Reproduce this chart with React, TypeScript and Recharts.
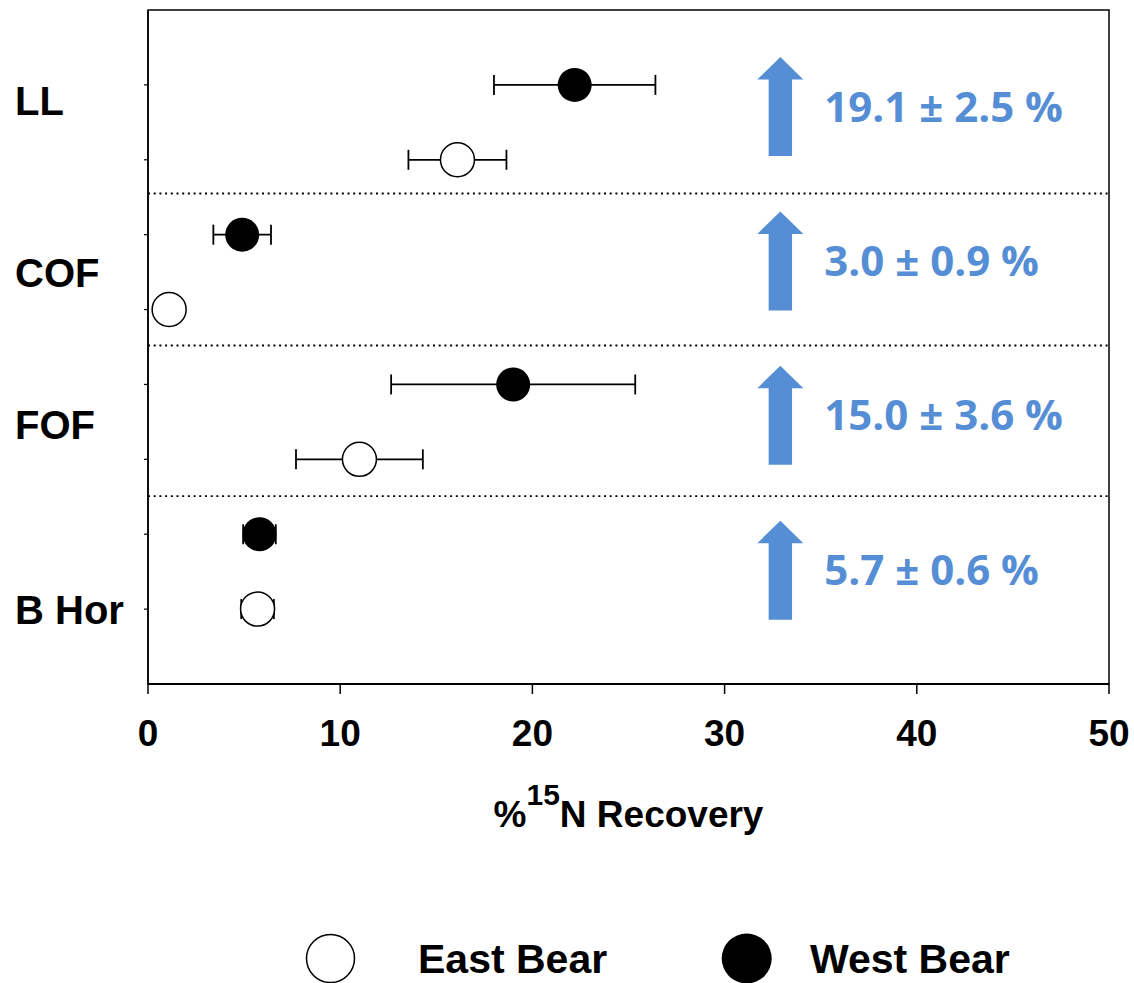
import React from "react";
import {
  ScatterChart,
  Scatter,
  XAxis,
  YAxis,
  ErrorBar,
  ReferenceLine,
  ReferenceArea,
} from "recharts";

const categories = ["LL", "COF", "FOF", "B Hor"];
const labelRows = [7.8, 5.5, 3.47, 1.0];

// West Bear (filled) and East Bear (open), mean and +/- error
const westMean = [22.2, 4.9, 19.0, 5.8];
const westErr = [4.2, 1.5, 6.35, 0.85];
const westRows = [8, 6, 4, 2];
const eastMean = [16.1, 1.1, 11.0, 5.7];
const eastErr = [2.55, 0.5, 3.3, 0.85];
const eastRows = [7, 5, 3, 1];

// blue arrow annotations
const gainText = ["19.1 ± 2.5 %", "3.0 ± 0.9 %", "15.0 ± 3.6 %", "5.7 ± 0.6 %"];
const gainRows = [7.71, 5.65, 3.59, 1.52];
const gainX = 32.9;

const separators = [6.55, 4.52, 2.51];
const xTicks = [0, 10, 20, 30, 40, 50];
const yTicks = [1, 2, 3, 4, 5, 6, 7, 8];

const FONT = "Arial, 'Liberation Sans', sans-serif";
const BLUE = "#558ED5";

const westData = westMean.map((x, i) => ({ x, y: westRows[i], err: westErr[i] }));
const eastData = eastMean.map((x, i) => ({ x, y: eastRows[i], err: eastErr[i] }));
const gainData = gainText.map((label, i) => ({ x: gainX, y: gainRows[i], label }));
const labelData = categories.map((label, i) => ({ x: 0, y: labelRows[i], label }));

const filledDot = (p: any) => <circle cx={p.cx} cy={p.cy} r={17} fill="#000" />;
const openDot = (p: any) => (
  <circle cx={p.cx} cy={p.cy} r={17} fill="#fff" stroke="#000" strokeWidth={1.5} />
);

const ArrowNote = (p: any) => {
  const { cx, cy } = p;
  const label = p.payload?.label ?? "";
  const d = [
    `M ${cx} ${cy - 49.5}`,
    `L ${cx + 23} ${cy - 27}`,
    `L ${cx + 11.7} ${cy - 27}`,
    `L ${cx + 11.7} ${cy + 49.5}`,
    `L ${cx - 11.7} ${cy + 49.5}`,
    `L ${cx - 11.7} ${cy - 27}`,
    `L ${cx - 23} ${cy - 27}`,
    "Z",
  ].join(" ");
  return (
    <g>
      <path d={d} fill={BLUE} />
      <text
        x={cx + 44}
        y={cy + 15}
        fill={BLUE}
        fontFamily="'Open Sans', sans-serif"
        fontWeight={700}
        fontSize={42}
      >
        {label}
      </text>
    </g>
  );
};

// category names sit left of the y axis
const CategoryLabel = (p: any) => (
  <text
    x={p.cx - 133}
    y={p.cy + 15}
    textAnchor="start"
    fontFamily={FONT}
    fontWeight={700}
    fontSize={40}
    fill="#000"
  >
    {p.payload?.label}
  </text>
);

const AxisTitle = (p: any) => {
  const vb = p.viewBox;
  return (
    <text
      x={vb.x + vb.width / 2}
      y={vb.y + 143}
      textAnchor="middle"
      fontFamily={FONT}
      fontWeight={700}
      fontSize={37}
      fill="#000"
    >
      <tspan>%</tspan>
      <tspan dy={-22} fontSize={30}>15</tspan>
      <tspan dy={22}>N Recovery</tspan>
    </text>
  );
};

function LegendRow() {
  return (
    <svg width={1134} height={63} style={{ position: "absolute", left: 0, top: 920 }}>
      <circle cx={330.5} cy={38.5} r={24} fill="#fff" stroke="#000" strokeWidth={1.5} />
      <text x={418} y={53} fontFamily={FONT} fontWeight={700} fontSize={41} fill="#000">
        East Bear
      </text>
      <circle cx={746.7} cy={38.5} r={25} fill="#000" />
      <text x={810} y={53} fontFamily={FONT} fontWeight={700} fontSize={41} fill="#000">
        West Bear
      </text>
    </svg>
  );
}

export default function App() {
  return (
    <div style={{ position: "absolute", left: 0, top: 0, width: 1134, height: 983, background: "#fff" }}>
      <ScatterChart
        width={1134}
        height={983}
        margin={{ top: 10, right: 25, bottom: 239, left: 138 }}
      >
        <XAxis
          type="number"
          dataKey="x"
          domain={[0, 50]}
          ticks={xTicks}
          height={60}
          tickSize={10}
          tickMargin={26}
          axisLine={{ stroke: "#000", strokeWidth: 2 }}
          tickLine={{ stroke: "#000", strokeWidth: 1.5 }}
          tick={{ fontFamily: FONT, fontWeight: 700, fontSize: 37, fill: "#000" }}
          label={<AxisTitle />}
        />
        <YAxis
          type="number"
          dataKey="y"
          domain={[0, 9]}
          ticks={yTicks}
          width={10}
          tickSize={4}
          tick={() => <g />}
          axisLine={{ stroke: "#000", strokeWidth: 1.5 }}
          tickLine={{ stroke: "#000", strokeWidth: 1.2 }}
        />
        <ReferenceArea x1={0} x2={50} y1={0} y2={9} fill="none" stroke="#000" strokeWidth={1.5} />
        {separators.map((s) => (
          <ReferenceLine key={s} y={s} stroke="#000" strokeWidth={1.8} strokeDasharray="2 3.7" />
        ))}
        <Scatter data={labelData} shape={<CategoryLabel />} isAnimationActive={false} />
        <Scatter data={gainData} shape={<ArrowNote />} isAnimationActive={false} />
        <Scatter data={eastData} shape={openDot} isAnimationActive={false}>
          <ErrorBar dataKey="err" direction="x" width={10} stroke="#000" strokeWidth={1.8} />
        </Scatter>
        <Scatter data={westData} shape={filledDot} isAnimationActive={false}>
          <ErrorBar dataKey="err" direction="x" width={10} stroke="#000" strokeWidth={1.8} />
        </Scatter>
      </ScatterChart>
      <LegendRow />
    </div>
  );
}
